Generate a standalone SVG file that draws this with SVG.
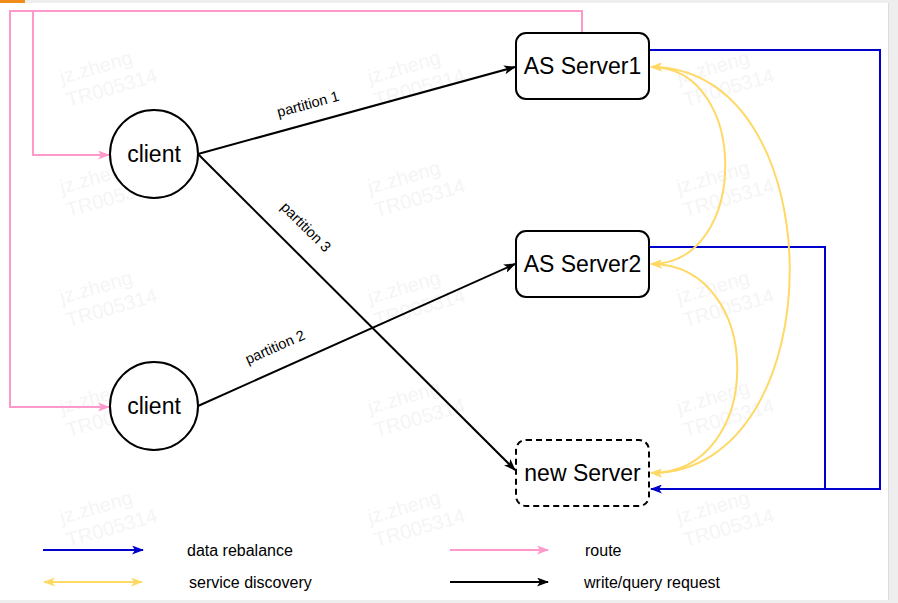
<svg xmlns="http://www.w3.org/2000/svg" width="898" height="603" viewBox="0 0 898 603">
<defs>
<style>
.lbl{font-family:"Liberation Sans",Arial,sans-serif;fill:#000;}
.node{font-size:23px;text-anchor:middle;}
.part{font-size:14.5px;text-anchor:middle;}
.leg{font-size:16px;}
.wm{font-family:"Liberation Sans",Arial,sans-serif;font-size:20px;fill:#f5f5f5;}
.edge{fill:none;stroke-width:2;}
.blk{stroke:#000;}
.blue{stroke:#0000cc;}
.pink{stroke:#ff99cc;}
.yel{stroke:#ffd966;}
.shape{fill:#fff;stroke:#000;stroke-width:2;}
</style>
<marker id="ab" viewBox="0 0 12 9" refX="11" refY="4.5" markerWidth="12" markerHeight="9" markerUnits="userSpaceOnUse" orient="auto-start-reverse"><path d="M0,0 L12,4.5 L0,9 L3,4.5 Z" fill="#000"/></marker>
<marker id="au" viewBox="0 0 12 9" refX="11" refY="4.5" markerWidth="12" markerHeight="9" markerUnits="userSpaceOnUse" orient="auto-start-reverse"><path d="M0,0 L12,4.5 L0,9 L3,4.5 Z" fill="#0000cc"/></marker>
<marker id="ap" viewBox="0 0 12 9" refX="11" refY="4.5" markerWidth="12" markerHeight="9" markerUnits="userSpaceOnUse" orient="auto-start-reverse"><path d="M0,0 L12,4.5 L0,9 L3,4.5 Z" fill="#ff99cc"/></marker>
<marker id="ay" viewBox="0 0 12 9" refX="11" refY="4.5" markerWidth="12" markerHeight="9" markerUnits="userSpaceOnUse" orient="auto-start-reverse"><path d="M0,0 L12,4.5 L0,9 L3,4.5 Z" fill="#ffd966"/></marker>
</defs>

<g id="background">
<rect x="0" y="0" width="898" height="603" fill="#eeeeee"/>
<rect x="0" y="3" width="888" height="597" fill="#ffffff"/>
<rect x="0" y="0" width="25" height="3" fill="#f08c1a"/>
<line x1="888.5" y1="3" x2="888.5" y2="600" stroke="#dddddd" stroke-width="1"/>
</g>

<g id="watermarks">
<text class="wm" transform="translate(62,84) rotate(-16)">jz.zheng<tspan x="0" dy="24">TR005314</tspan></text>
<text class="wm" transform="translate(370,84) rotate(-16)">jz.zheng<tspan x="0" dy="24">TR005314</tspan></text>
<text class="wm" transform="translate(679,84) rotate(-16)">jz.zheng<tspan x="0" dy="24">TR005314</tspan></text>
<text class="wm" transform="translate(62,194) rotate(-16)">jz.zheng<tspan x="0" dy="24">TR005314</tspan></text>
<text class="wm" transform="translate(370,194) rotate(-16)">jz.zheng<tspan x="0" dy="24">TR005314</tspan></text>
<text class="wm" transform="translate(679,194) rotate(-16)">jz.zheng<tspan x="0" dy="24">TR005314</tspan></text>
<text class="wm" transform="translate(62,304) rotate(-16)">jz.zheng<tspan x="0" dy="24">TR005314</tspan></text>
<text class="wm" transform="translate(370,304) rotate(-16)">jz.zheng<tspan x="0" dy="24">TR005314</tspan></text>
<text class="wm" transform="translate(679,304) rotate(-16)">jz.zheng<tspan x="0" dy="24">TR005314</tspan></text>
<text class="wm" transform="translate(62,414) rotate(-16)">jz.zheng<tspan x="0" dy="24">TR005314</tspan></text>
<text class="wm" transform="translate(370,414) rotate(-16)">jz.zheng<tspan x="0" dy="24">TR005314</tspan></text>
<text class="wm" transform="translate(679,414) rotate(-16)">jz.zheng<tspan x="0" dy="24">TR005314</tspan></text>
<text class="wm" transform="translate(62,524) rotate(-16)">jz.zheng<tspan x="0" dy="24">TR005314</tspan></text>
<text class="wm" transform="translate(370,524) rotate(-16)">jz.zheng<tspan x="0" dy="24">TR005314</tspan></text>
<text class="wm" transform="translate(679,524) rotate(-16)">jz.zheng<tspan x="0" dy="24">TR005314</tspan></text>
</g>

<g id="connectors">
<path class="edge pink" d="M582,33 V11 H10 V407 H109" marker-end="url(#ap)"/>
<path class="edge pink" d="M33,11 V155 H109" marker-end="url(#ap)"/>
<path class="edge blue" d="M649,50 H880 V489 H651" marker-end="url(#au)"/>
<path class="edge blue" d="M649,247 H825 V489"/>
<path class="edge yel" d="M651,67 C750,67 750,264 651,264" marker-start="url(#ay)" marker-end="url(#ay)"/>
<path class="edge yel" d="M651,264 C766,264 766,473 651,473" marker-start="url(#ay)" marker-end="url(#ay)"/>
<path class="edge yel" d="M651,67 C836,67 836,473 651,473" marker-start="url(#ay)" marker-end="url(#ay)"/>
<path class="edge blk" d="M198,154 L515,67" marker-end="url(#ab)"/>
<path class="edge blk" d="M198,154 L515,470" marker-end="url(#ab)"/>
<path class="edge blk" d="M198,406 L515,264" marker-end="url(#ab)"/>
<text class="lbl part" transform="translate(308,104) rotate(-15.3)" y="5">partition 1</text>
<text class="lbl part" transform="translate(306,227) rotate(44.8)" y="5">partition 3</text>
<text class="lbl part" transform="translate(275,347) rotate(-24)" y="5">partition 2</text>
</g>

<g id="client1">
<circle class="shape" cx="154" cy="154" r="44"/>
<text class="lbl node" x="154" y="162">client</text>
</g>
<g id="client2">
<circle class="shape" cx="154" cy="406" r="44"/>
<text class="lbl node" x="154" y="414">client</text>
</g>
<g id="server1">
<rect class="shape" x="516" y="33" width="133" height="66" rx="10"/>
<text class="lbl node" x="582.5" y="74">AS Server1</text>
</g>
<g id="server2">
<rect class="shape" x="516" y="231" width="133" height="66" rx="10"/>
<text class="lbl node" x="582.5" y="272">AS Server2</text>
</g>
<g id="newserver">
<rect class="shape" x="516" y="440" width="133" height="66" rx="10" stroke-dasharray="6,4"/>
<text class="lbl node" x="582.5" y="481">new Server</text>
</g>

<g id="legend">
<path class="edge blue" d="M43,550 H143" marker-end="url(#au)"/>
<text class="lbl leg" x="187" y="556">data rebalance</text>
<path class="edge yel" d="M44,582 H142" marker-start="url(#ay)" marker-end="url(#ay)"/>
<text class="lbl leg" x="189" y="588">service discovery</text>
<path class="edge pink" d="M450,550 H548" marker-end="url(#ap)"/>
<text class="lbl leg" x="585" y="556">route</text>
<path class="edge blk" d="M450,582 H548" marker-end="url(#ab)"/>
<text class="lbl leg" x="584" y="588">write/query request</text>
</g>
</svg>
